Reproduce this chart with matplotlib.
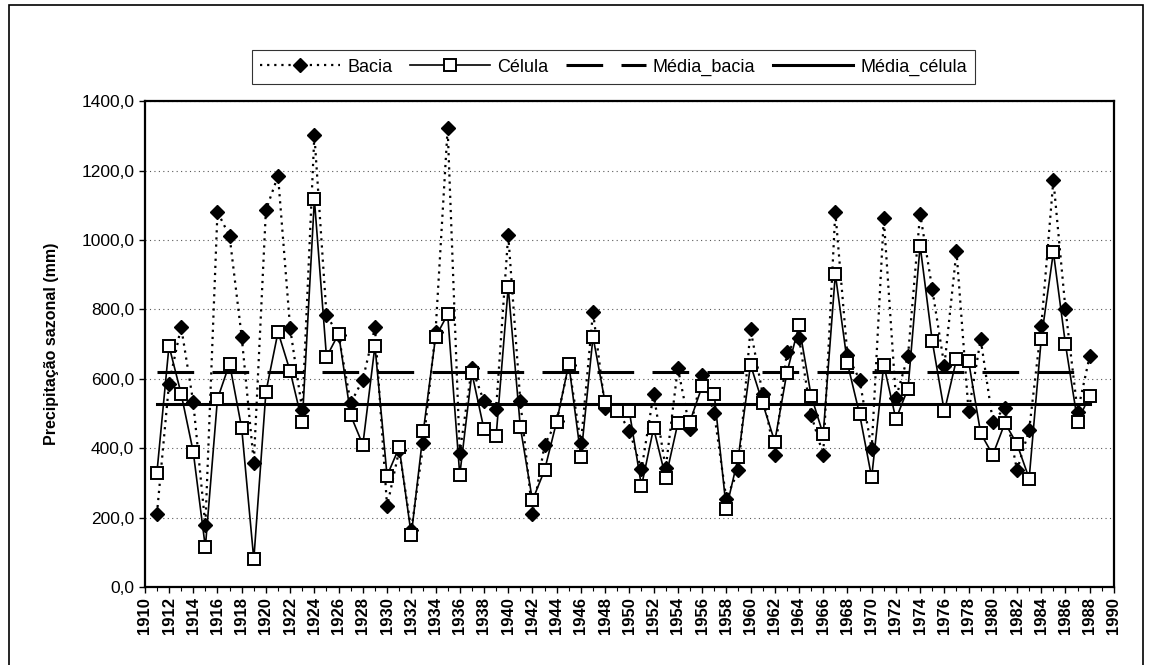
import numpy as np
import matplotlib
matplotlib.use("Agg")
import matplotlib.pyplot as plt
from matplotlib.ticker import FuncFormatter, MultipleLocator
from matplotlib.patches import Rectangle

plt.rcParams['font.family'] = ['Liberation Sans', 'DejaVu Sans']

# Seasonal precipitation (mm), 1911-1988
anos = np.arange(1911, 1989)

bacia = [210, 586, 750, 533, 178, 1081, 1011, 721, 359, 1086,
         1185, 746, 509, 1303, 784, 725, 530, 598, 748, 233,
         395, 165, 414, 735, 1322, 387, 632, 535, 513, 1015,
         535, 210, 410, 478, 640, 414, 793, 516, 510, 451,
         339, 557, 342, 632, 455, 612, 501, 255, 337, 743,
         557, 381, 677, 719, 497, 381, 1081, 668, 598, 397,
         1062, 545, 666, 1076, 859, 637, 968, 506, 714, 477,
         516, 337, 453, 751, 1173, 800, 505, 666]

celula = [329, 695, 557, 390, 115, 542, 644, 458, 80, 562,
          735, 622, 475, 1117, 663, 730, 495, 410, 695, 321,
          403, 150, 451, 720, 786, 323, 617, 455, 434, 864,
          461, 250, 337, 477, 643, 376, 721, 532, 506, 506,
          291, 458, 315, 472, 477, 578, 557, 226, 376, 641,
          530, 419, 617, 754, 552, 440, 902, 645, 499, 316,
          641, 484, 572, 984, 709, 506, 656, 651, 443, 381,
          473, 412, 313, 716, 965, 699, 477, 552]

media_bacia = 620.0
media_celula = 527.0

fig = plt.figure(figsize=(11.49, 6.65), dpi=100)
ax = fig.add_axes([0.126, 0.117, 0.8435, 0.731])

ax.plot(anos, bacia, color='black', linestyle=(0, (1, 2.2)), linewidth=1.6,
        marker='D', markersize=7.5, markerfacecolor='black',
        markeredgecolor='black', label='Bacia', zorder=3)
ax.plot(anos, celula, color='black', linestyle='-', linewidth=1.2,
        marker='s', markersize=8.5, markerfacecolor='white',
        markeredgecolor='black', markeredgewidth=1.4, label='Célula', zorder=4)
ax.plot(anos, np.full(len(anos), media_bacia), color='black',
        linestyle=(0, (12, 6)), linewidth=2.2, label='Média_bacia', zorder=2)
ax.plot(anos, np.full(len(anos), media_celula), color='black',
        linestyle='-', linewidth=2.2, label='Média_célula', zorder=2)

ax.set_xlim(1910, 1990)
ax.set_ylim(0, 1400)
ax.xaxis.set_major_locator(MultipleLocator(2))
ax.xaxis.set_minor_locator(MultipleLocator(1))
ax.yaxis.set_major_locator(MultipleLocator(200))
ax.yaxis.set_major_formatter(FuncFormatter(lambda v, p: f"{v:.1f}".replace('.', ',')))

ax.grid(axis='y', color='0.35', linestyle=(0, (1, 3)), linewidth=0.8, zorder=0)
ax.set_axisbelow(True)

ax.tick_params(axis='x', which='major', length=4, width=1, direction='out', pad=3)
ax.tick_params(axis='x', which='minor', length=3, width=0.8, direction='out')
ax.tick_params(axis='y', length=4, width=1, direction='out')
ax.set_xticks(np.arange(1910, 1991, 2))
ax.set_xticklabels([str(a) for a in range(1910, 1991, 2)], rotation=90,
                   fontsize=12, fontweight='bold')
for lbl in ax.get_yticklabels():
    lbl.set_fontsize(12.5)
    lbl.set_family(['Liberation Sans Narrow', 'Liberation Sans'])

for s in ax.spines.values():
    s.set_linewidth(1.6)
    s.set_color('black')

ax.set_ylabel('Precipitação sazonal (mm)', fontsize=11.5, fontweight='bold', labelpad=16)

leg = fig.legend(loc='center', bbox_to_anchor=(0.534, 0.899), ncol=4,
                 frameon=True, fancybox=False, edgecolor='black',
                 fontsize=13, handlelength=4.4, columnspacing=1.0,
                 handletextpad=0.4, borderpad=0.45)
leg.get_frame().set_linewidth(0.8)

# border around the whole chart
fig.patches.append(Rectangle((0.008, -0.02), 0.987, 1.012, transform=fig.transFigure,
                             fill=False, edgecolor='black', linewidth=1.2))

fig.savefig('out.png', dpi=100, facecolor='white')
